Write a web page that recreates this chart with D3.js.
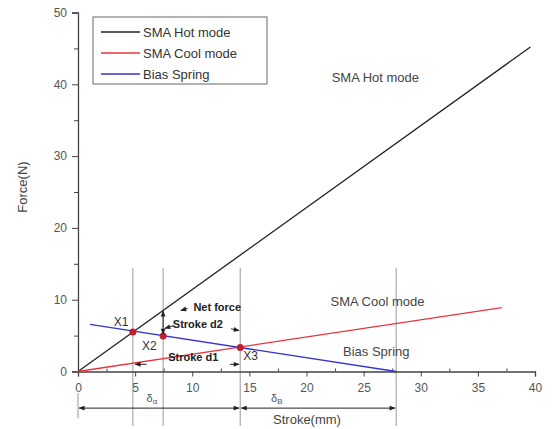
<!DOCTYPE html>
<html>
<head>
<meta charset="utf-8">
<script src="https://cdn.jsdelivr.net/npm/d3@7"></script>
<style>
  body { margin: 0; background: #fff; }
  text { font-family: "Liberation Sans", Arial, sans-serif; }
</style>
</head>
<body>
<div id="chart"></div>
<script>
// data
var hotX = [0, 39.6], hotY = [0, 45.2];
var coolX = [0, 37.1], coolY = [0, 8.9];
var biasX = [1.05, 27.85], biasY = [6.55, 0];
var pointNames = ["X1", "X2", "X3"];
var pointX = [4.8, 7.45, 14.2];
var pointY = [5.5, 4.95, 3.35];
var guideX = [4.8, 7.45, 14.2, 27.85];
var xTicks = [0, 5, 10, 15, 20, 25, 30, 35, 40];
var yTicks = [0, 10, 20, 30, 40, 50];
var seriesNames = ["SMA Hot mode", "SMA Cool mode", "Bias Spring"];
var seriesColors = ["#222", "#e8343c", "#3434d0"];

var W = 552, H = 429;
var svg = d3.select("#chart").append("svg")
    .attr("width", W)
    .attr("height", H);

var x = d3.scaleLinear().domain([0, 40]).range([78, 535]);
var y = d3.scaleLinear().domain([0, 50]).range([371.5, 12.5]);

// arrow markers
var defs = svg.append("defs");
function marker(id, color) {
    defs.append("marker")
        .attr("id", id)
        .attr("viewBox", "0 0 10 10")
        .attr("refX", 9).attr("refY", 5)
        .attr("markerWidth", 7).attr("markerHeight", 6)
        .attr("orient", "auto-start-reverse")
        .append("path")
        .attr("d", "M0,1L10,5L0,9z")
        .attr("fill", color);
}
marker("arr", "#222");

// vertical guide lines
svg.selectAll(".guide")
    .data(guideX)
    .enter().append("line")
    .attr("class", "guide")
    .attr("x1", d => x(d)).attr("x2", d => x(d))
    .attr("y1", y(14.4)).attr("y2", y(-7.6))
    .attr("stroke", "#aaa")
    .attr("stroke-width", 1.2);
svg.append("line")
    .attr("x1", x(0)).attr("x2", x(0))
    .attr("y1", y(-3)).attr("y2", y(-6.5))
    .attr("stroke", "#aaa").attr("stroke-width", 1.2);

// axes
var xAxis = svg.append("g")
    .attr("transform", "translate(0," + y(0) + ")")
    .call(d3.axisBottom(x).tickValues(xTicks).tickSize(5).tickPadding(7));
var xMinor = svg.append("g")
    .attr("transform", "translate(0," + y(0) + ")")
    .call(d3.axisTop(x).tickValues(d3.range(2.5, 40, 5)).tickSize(3).tickFormat(""));
var yAxis = svg.append("g")
    .attr("transform", "translate(" + x(0) + ",0)")
    .call(d3.axisLeft(y).tickValues(yTicks).tickSize(6).tickPadding(5));
var yMinor = svg.append("g")
    .attr("transform", "translate(" + x(0) + ",0)")
    .call(d3.axisLeft(y).tickValues(d3.range(5, 50, 10)).tickSize(4).tickFormat(""));
[xAxis, xMinor, yAxis, yMinor].forEach(function (g) {
    g.select(".domain").attr("stroke", "#444").attr("stroke-width", 1.3);
    g.selectAll(".tick line").attr("stroke", "#444");
    g.selectAll("text").attr("fill", "#555").style("font-size", "12px");
});
xMinor.select(".domain").remove();
yMinor.select(".domain").remove();

// series lines
var line = d3.line().x(d => x(d[0])).y(d => y(d[1]));
var series = [
    d3.zip(hotX, hotY),
    d3.zip(coolX, coolY),
    d3.zip(biasX, biasY)
];
svg.selectAll(".series")
    .data(series)
    .enter().append("path")
    .attr("class", "series")
    .attr("d", line)
    .attr("fill", "none")
    .attr("stroke", (d, i) => seriesColors[i])
    .attr("stroke-width", 1.3);

// intersection points
svg.selectAll(".pt")
    .data(pointX)
    .enter().append("circle")
    .attr("class", "pt")
    .attr("cx", d => x(d))
    .attr("cy", (d, i) => y(pointY[i]))
    .attr("r", 3.5)
    .attr("fill", "#c0202c");

var ptLabelDx = [-19, -21, 3], ptLabelDy = [-6, 14, 13];
svg.selectAll(".ptlab")
    .data(pointNames)
    .enter().append("text")
    .attr("class", "ptlab")
    .attr("x", (d, i) => x(pointX[i]) + ptLabelDx[i])
    .attr("y", (d, i) => y(pointY[i]) + ptLabelDy[i])
    .style("font-size", "12px")
    .attr("fill", "#333")
    .text(d => d);

// annotations
function arrow(x1, y1, x2, y2, both) {
    var l = svg.append("line")
        .attr("x1", x1).attr("y1", y1).attr("x2", x2).attr("y2", y2)
        .attr("stroke", "#222").attr("stroke-width", 1)
        .attr("marker-end", "url(#arr)");
    if (both) l.attr("marker-start", "url(#arr)");
}
// net force
arrow(x(7.45), y(8.4), x(7.45), y(5.2), true);
arrow(x(9.6), y(8.8), x(9.0), y(8.5), false);
svg.append("text").attr("x", x(10.1)).attr("y", y(8.4))
    .style("font-size", "11px").style("font-weight", "bold").attr("fill", "#222")
    .text("Net force");
// stroke d2
arrow(x(8.4), y(6.4), x(7.6), y(6.0), false);
arrow(x(13.4), y(5.95), x(14.1), y(5.7), false);
svg.append("text").attr("x", x(8.3)).attr("y", y(6.1))
    .style("font-size", "11px").style("font-weight", "bold").attr("fill", "#222")
    .text("Stroke d2");
// stroke d1
arrow(x(6.0), y(1.0), x(5.0), y(1.0), false);
arrow(x(13.3), y(1.0), x(14.1), y(1.0), false);
svg.append("text").attr("x", x(7.9)).attr("y", y(1.5))
    .style("font-size", "11px").style("font-weight", "bold").attr("fill", "#222")
    .text("Stroke d1");

// bottom span arrows
arrow(x(0.1), y(-5.1), x(14.1), y(-5.1), true);
arrow(x(14.3), y(-5.1), x(27.75), y(-5.1), true);
var dl = [["\u03b4", "\u03b1", 6.0], ["\u03b4", "B", 16.9]];
dl.forEach(function (d) {
    var t = svg.append("text").attr("x", x(d[2])).attr("y", y(-4.3))
        .style("font-size", "11px").attr("fill", "#555").text(d[0]);
    t.append("tspan").attr("dy", 2).style("font-size", "8px").text(d[1]);
});

// curve labels
var labX = [22.2, 22.1, 23.2], labY = [40.3, 9.1, 2.1];
svg.selectAll(".clab")
    .data(seriesNames)
    .enter().append("text")
    .attr("class", "clab")
    .attr("x", (d, i) => x(labX[i]))
    .attr("y", (d, i) => y(labY[i]))
    .style("font-size", "13px")
    .attr("fill", "#444")
    .text(d => d);

// axis titles
svg.append("text")
    .attr("transform", "translate(27,187) rotate(-90)")
    .attr("text-anchor", "middle")
    .style("font-size", "13px").attr("fill", "#444")
    .text("Force(N)");
svg.append("text")
    .attr("x", 307).attr("y", 424)
    .attr("text-anchor", "middle")
    .style("font-size", "13px").attr("fill", "#444")
    .text("Stroke(mm)");

// legend
var lg = svg.append("g").attr("transform", "translate(93,17)");
lg.append("rect").attr("width", 174).attr("height", 67)
    .attr("fill", "#fff").attr("stroke", "#666").attr("stroke-width", 1);
seriesNames.forEach(function (n, i) {
    lg.append("line").attr("x1", 8).attr("x2", 47)
        .attr("y1", 15 + i * 21).attr("y2", 15 + i * 21)
        .attr("stroke", seriesColors[i]).attr("stroke-width", 1.3);
    lg.append("text").attr("x", 50).attr("y", 20 + i * 21)
        .style("font-size", "13px").attr("fill", "#333").text(n);
});
</script>
</body>
</html>
